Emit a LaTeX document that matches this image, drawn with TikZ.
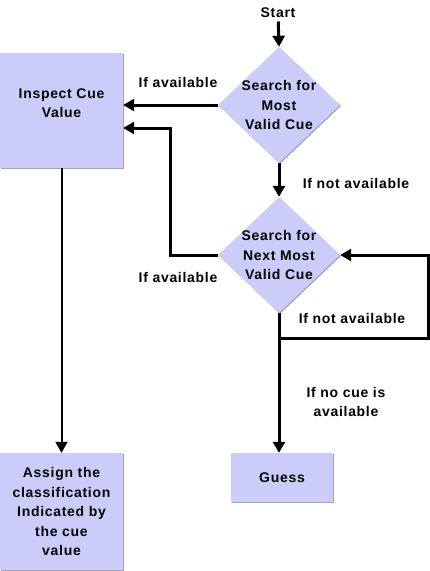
\documentclass[tikz,border=0pt]{standalone}
\usepackage{fontspec}
\setmainfont{Liberation Sans}[LetterSpace = 5]
\usepackage{xcolor}
\usetikzlibrary{calc, positioning, shapes.geometric, arrows.meta, shadows}

\definecolor{cuefill}{RGB}{204,204,250}

\tikzset{
	cuebox/.style = {rectangle, fill = cuefill, inner sep = 0pt, align = center,
		drop shadow = {shadow xshift = 1pt, shadow yshift = -1pt, fill = gray!70, opacity = 1}},
	cuediamond/.style = {diamond, fill = cuefill, inner sep = -9pt, align = center,
		minimum width = 122pt, minimum height = 116pt,
		drop shadow = {shadow xshift = 1pt, shadow yshift = -1pt, fill = gray!70, opacity = 1}},
	flow/.style = {line width = 3pt, -{Triangle[width = 12pt, length = 11pt]}},
	cuelabel/.style = {align = center}
}

\begin{document}
\begin{tikzpicture}[x = 1pt, y = -1pt, font = \fontsize{14}{19.5}\selectfont\bfseries]
	\useasboundingbox (0,0) rectangle (430,571);

	\node (start) at (278,13) {Start};
	\node [cuediamond] (most) at (279,105) {Search for\\Most\\Valid Cue};
	\node [cuediamond] (next) at (279,255) {Search for\\Next Most\\Valid Cue};

	\node [cuebox, minimum width = 123pt, minimum height = 115pt,
		label = {[anchor = north, align = center, yshift = -32pt]north:Inspect Cue\\Value}]
		(inspect) at (61.5,110.5) {};
	\node [cuebox, minimum width = 123pt, minimum height = 117pt] (assign) at (61.5,511.5)
		{Assign the\\classification\\Indicated by\\the cue\\value};
	\node [cuebox, minimum width = 102pt, minimum height = 49pt] (guess) at (282,477.5) {Guess};

	\coordinate (split) at (278,338);

	\begin{scope}[flow]
		\draw (start) -- (most.north);
		\draw (most.south) -- (next.north);
		\draw (most.west) -- (inspect.east |- most.west);
		\draw (next.west) -- ++(-47,0) |- ([yshift = -17.5pt]inspect.east);
		\draw (split) -- ++(150,0) |- (next.east);
		\draw (next.south) -- (next.south |- guess.north);
	\end{scope}
	\draw [line width = 2pt, -{Triangle[width = 12pt, length = 11pt]}] (inspect.south) -- (assign.north);

	\node [cuelabel] (avail1) at (178,82) {If available};
	\node [cuelabel] (avail2) at (178,277) {If available};
	\node [cuelabel] (notavail1) at (356,183) {If not available};
	\node [cuelabel] (notavail2) at (352,318) {If not available};
	\node [cuelabel] (nocue) at (346,402) {If no cue is\\available};
\end{tikzpicture}
\end{document}
